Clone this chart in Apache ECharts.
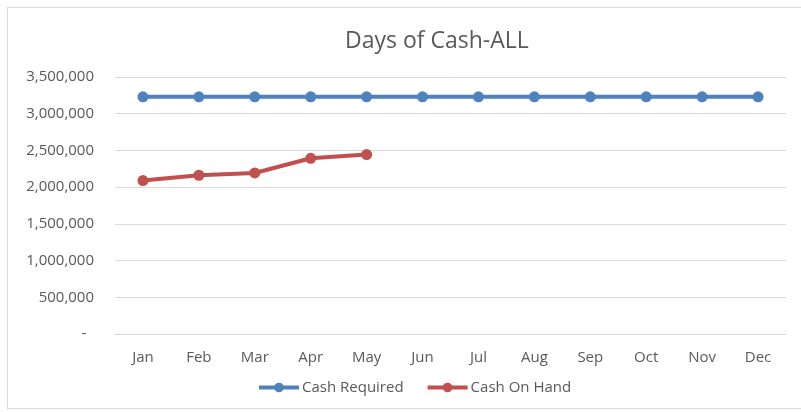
<!DOCTYPE html>
<html>
<head>
<meta charset="utf-8">
<script src="https://cdn.jsdelivr.net/npm/echarts@6/dist/echarts.min.js"></script>
<style>
  html, body { margin: 0; padding: 0; background: #fff; }
  #chart { width: 801px; height: 412px; }
  #frame { position: absolute; left: 7px; top: 7px; width: 800px; height: 402px; border: 1px solid #d9d9d9; box-sizing: border-box; pointer-events: none; }
</style>
</head>
<body>
<div id="chart"></div>
<div id="frame"></div>
<script>
// 月份
const months = ['Jan', 'Feb', 'Mar', 'Apr', 'May', 'Jun', 'Jul', 'Aug', 'Sep', 'Oct', 'Nov', 'Dec'];
// 所需现金（每月相同）
const cashRequired = [3230000, 3230000, 3230000, 3230000, 3230000, 3230000, 3230000, 3230000, 3230000, 3230000, 3230000, 3230000];
// 手头现金（仅前五个月）
const cashOnHand = [2090000, 2162000, 2193000, 2393000, 2443000];

const chart = echarts.init(document.getElementById('chart'));
const font = '"Open Sans", "Noto Sans", sans-serif';

chart.setOption({
    animation: false,
    title: {
        text: 'Days of Cash-ALL',
        left: 340,
        top: 25,
        textStyle: { fontFamily: font, fontSize: 23, fontWeight: 'normal', color: '#595959' }
    },
    legend: {
        bottom: 12,
        left: 252,
        itemWidth: 40,
        itemHeight: 12,
        itemGap: 22,
        lineStyle: { width: 4 },
        textStyle: { fontFamily: font, fontSize: 15, color: '#595959', padding: [0, 0, 0, -2] },
        data: ['Cash Required', 'Cash On Hand']
    },
    grid: { left: 115, right: 15, top: 77, bottom: 78 },
    xAxis: {
        type: 'category',
        data: months,
        boundaryGap: true,
        axisLine: { lineStyle: { color: '#d9d9d9' } },
        axisTick: { show: false },
        axisLabel: { fontFamily: font, fontSize: 15, color: '#595959', margin: 16 }
    },
    yAxis: {
        type: 'value',
        min: 0,
        max: 3500000,
        interval: 500000,
        axisLine: { show: false },
        axisTick: { show: false },
        splitLine: { lineStyle: { color: '#d9d9d9' } },
        axisLabel: {
            fontFamily: font, fontSize: 15, color: '#595959', margin: 21,
            formatter: function (v) {
                return v === 0 ? '-  ' : v.toLocaleString('en-US');
            }
        }
    },
    series: [
        {
            name: 'Cash Required',
            type: 'line',
            data: cashRequired,
            symbol: 'circle',
            symbolSize: 11,
            lineStyle: { width: 4, color: '#4f81bd' },
            itemStyle: { color: '#4f81bd' }
        },
        {
            name: 'Cash On Hand',
            type: 'line',
            data: cashOnHand,
            symbol: 'circle',
            symbolSize: 11,
            lineStyle: { width: 4, color: '#c0504d' },
            itemStyle: { color: '#c0504d' }
        }
    ]
});
</script>
</body>
</html>
